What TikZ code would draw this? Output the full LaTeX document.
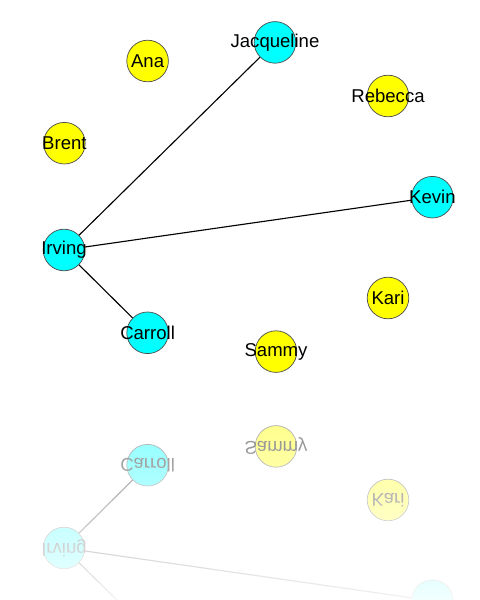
\documentclass[tikz,border=0pt]{standalone}
\usepackage{fontspec}
\setmainfont{Liberation Sans}
\usetikzlibrary{positioning}

\definecolor{nodecyan}{RGB}{0,255,255}
\definecolor{nodeyellow}{RGB}{255,255,0}

% one copy of the network: node names get the prefix #1, #2 lists the names to print
\newcommand{\socialnet}[2]{%
  \foreach \id/\pos/\col in {%
      jacqueline/{6.875,13.94}/nodecyan, ana/{3.69,13.475}/nodeyellow,
      rebecca/{9.7,12.6}/nodeyellow, brent/{1.61,11.42}/nodeyellow,
      kevin/{10.81,10.07}/nodecyan, irving/{1.6,8.75}/nodecyan,
      kari/{9.7,7.55}/nodeyellow, carroll/{3.69,6.68}/nodecyan,
      sammy/{6.9,6.21}/nodeyellow}
    \node[person, fill=\col] (#1\id) at (\pos) {};
  % ties
  \draw[tie] (#1irving) -- (#1jacqueline);
  \draw[tie] (#1irving) -- (#1kevin);
  \draw[tie] (#1irving) -- (#1carroll);
  % names
  \foreach \id/\txt in {#2}
    \node[lbl] (#1\id-name) at (#1\id) {\txt};
}

\begin{document}
\begin{tikzpicture}[
  person/.style={circle, draw=black!70, line width=0.5pt, minimum size=1.04cm, inner sep=0pt},
  tie/.style={draw=black, line width=0.8pt},
  lbl/.style={font=\fontsize{13.2}{15}\selectfont, inner sep=0pt}
]
\useasboundingbox (0,0) rectangle (12,15);
\clip (0,0) rectangle (12,15);

% the network
\socialnet{}{jacqueline/Jacqueline, ana/Ana, rebecca/Rebecca, brent/Brent,
  kevin/Kevin, irving/Irving, kari/Kari, carroll/Carroll, sammy/Sammy}

% its mirror image below
\begin{scope}[yshift=10.05cm, yscale=-1, transform shape]
  \socialnet{m-}{irving/Irving, kari/Kari, carroll/Carroll, sammy/Sammy}
\end{scope}

% white veil that fades the mirror image out
\foreach \i in {0,...,73}
  \fill[white, opacity={0.45+0.00687*\i}] (0,{5.5-0.075*\i}) rectangle (12,{5.5-0.075*(\i+1)});

\end{tikzpicture}
\end{document}
